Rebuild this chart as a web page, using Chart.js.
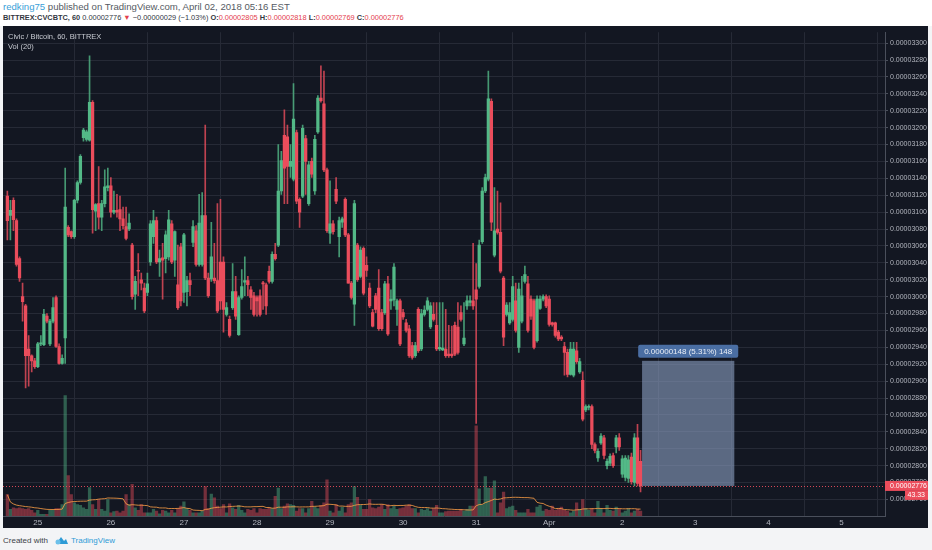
<!DOCTYPE html>
<html>
<head>
<meta charset="utf-8">
<script src="https://cdn.jsdelivr.net/npm/chart.js@4.4.1/dist/chart.umd.min.js"></script>
<style>
  html, body { margin: 0; padding: 0; }
  body { width: 932px; height: 550px; background: #f3f4f6; position: relative; overflow: hidden; font-family: "Liberation Sans", Arial, sans-serif; }
  #head { position: absolute; left: 0; top: 0; width: 932px; height: 26px; background: #fff; }
  #head .l1 { position: absolute; left: 3px; top: 1px; font-size: 9.6px; color: #555a63; white-space: nowrap; }
  #head .l2 { position: absolute; left: 3px; top: 13px; font-size: 7.4px; color: #33373f; white-space: nowrap; }
  .red { color: #e4404c; }
  .user { color: #3aa0d8; }
  #box { position: absolute; left: 3px; top: 26px; width: 925px; height: 502px; }
  .tag { position: absolute; left: 8px; font-size: 7.5px; color: #c8cbd2; white-space: nowrap; }
  #foot { position: absolute; left: 3px; top: 535px; font-size: 8px; color: #3b3f47; white-space: nowrap; }
  #foot svg { vertical-align: -2px; margin: 0 2px 0 5px; }
  #foot .tv { color: #2e9bd6; }
</style>
</head>
<body>
<div id="head">
  <div class="l1"><span class="user">redking75</span> published on TradingView.com, April 02, 2018 05:16 EST</div>
  <div class="l2"><b>BITTREX:CVCBTC, 60</b> 0.00002776 <span class="red">&#9660;</span> &minus;0.00000029 (&minus;1.03%) <b>O:</b><span class="red">0.00002805</span> <b>H:</b><span class="red">0.00002818</span> <b>L:</b><span class="red">0.00002769</span> <b>C:</b><span class="red">0.00002776</span></div>
</div>
<div id="box"><canvas id="c" width="925" height="502"></canvas></div>
<div class="tag" style="top:32px">Civic / Bitcoin, 60, BITTREX</div>
<div class="tag" style="top:42px">Vol (20)</div>
<div id="foot">Created with<svg width="16" height="10" viewBox="0 0 16 10"><path d="M3 9 L8 2 L11 6 L13 4 L15 9 Z" fill="#2e9bd6"/><circle cx="5" cy="7" r="2.5" fill="#6cc0ea"/></svg><span class="tv">TradingView</span></div>

<script>
// prices in units of 0.00000001 BTC, one candle per hour; hour 0 = 25 March 00:00
var firstHour = -10;

var openP = [
  3119,3096,3114,3090,3045,3000,2989,2938,2930,2924,
  2917,2944,2943,2977,2944,2971,2999,2941,2921,2951,
  3082,3077,3071,3114,3135,3188,3186,3185,3230,3101,
  3110,3094,3110,3129,3131,3100,3102,3103,3092,3083,
  3080,3061,3003,3031,3020,3010,3005,3041,3071,3090,
  3041,3046,3045,3047,3086,3043,3014,3059,3005,3006,
  3019,3064,3078,3038,3038,3096,3022,3021,3022,3019,
  3041,3041,2979,2973,2987,3006,2955,2999,3017,3019,
  3008,3001,2999,3001,3016,3014,3030,3018,3050,3061,
  3125,3191,3189,3154,3139,3194,3115,3119,3187,3110,
  3160,3125,3195,3235,3228,3150,3075,3086,3127,3071,
  3088,3115,3073,3016,2991,3061,3024,3057,3037,3010,
  2981,3001,3010,2981,2981,3015,2995,2996,2985,2995,
  2981,2969,2962,2942,2930,2985,2938,2979,2985,2964,
  2979,2966,2938,2937,2938,2932,2932,2966,2964,2981,
  2944,2989,2993,2995,3008,3012,3065,3125,3139,3231,
  3049,3080,3076,3022,2979,2969,2973,2995,2940,2971,
  3018,3015,2997,2995,2948,2986,2997,3000,2997,2969,
  2969,2958,2952,2941,2934,2908,2907,2936,2911,2901,
  2866,2869,2870,2825,2809,2827,2833,2800,2803,2812,
  2822,2833,2790,2786,2785,2810,2780,2833,2805
];
var highP = [
  3125,3114,3117,3092,3047,3016,2991,2954,2931,2927,
  2946,2954,2985,2980,2973,2999,3001,2944,2931,3152,
  3084,3078,3115,3137,3168,3199,3197,3285,3232,3110,
  3154,3114,3150,3152,3141,3125,3121,3119,3106,3106,
  3098,3063,3024,3051,3028,3016,3028,3090,3102,3094,
  3055,3063,3078,3102,3090,3078,3061,3063,3075,3024,
  3028,3090,3084,3121,3123,3203,3028,3088,3063,3110,
  3115,3047,2993,2977,3039,3024,3001,3032,3047,3024,
  3012,3005,3001,3008,3018,3016,3036,3053,3063,3180,
  3172,3221,3203,3180,3252,3197,3117,3203,3191,3160,
  3164,3191,3238,3273,3267,3152,3137,3090,3141,3094,
  3094,3117,3075,3018,3114,3063,3059,3059,3047,3016,
  2985,3004,3032,2985,3018,3024,3008,3039,2997,2997,
  2985,2973,2966,2946,2946,2987,2985,2989,2999,2993,
  2993,2993,2993,2993,2985,2966,2965,2970,2993,2989,
  2993,3001,3001,3063,3039,3067,3129,3145,3267,3234,
  3129,3125,3111,3024,2993,2993,3024,3016,3016,3024,
  3036,3024,3001,2997,3001,3001,3002,3002,3001,2970,
  2970,2960,2954,2946,2938,2946,2946,2946,2927,2911,
  2872,2872,2872,2827,2820,2838,2836,2808,2814,2815,
  2836,2838,2812,2812,2812,2815,2838,2849,2818
];
var lowP = [
  3067,3067,3078,3036,3018,2971,2892,2894,2911,2915,
  2916,2942,2942,2969,2942,2969,2940,2920,2920,2921,
  3071,3069,3069,3111,3133,3184,3184,3184,3075,3078,
  3080,3078,3106,3125,3094,3098,3094,3078,3080,3067,
  3078,2997,2985,3001,3008,2981,3001,3037,3063,3039,
  3024,2997,3028,3043,3039,3024,2985,2989,2993,2989,
  3001,3059,3036,3036,3036,3020,2999,3018,3016,2981,
  2985,2958,2977,2952,2985,2973,2954,2997,3001,3001,
  2985,2977,2977,2977,2985,2979,3016,3016,3043,3059,
  3121,3110,3110,3141,3137,3110,3082,3117,3121,3108,
  3141,3121,3193,3230,3148,3076,3063,3074,3110,3047,
  3082,3071,3016,2997,2966,3018,3022,3002,3024,2987,
  2964,2981,2960,2960,2979,2954,2985,2989,2966,2942,
  2973,2958,2928,2926,2928,2934,2936,2977,2983,2962,
  2971,2936,2936,2936,2928,2928,2928,2930,2932,2971,
  2942,2985,2989,2985,2850,3010,3063,3123,3137,3078,
  3047,3074,3028,2942,2977,2967,2971,2958,2934,2969,
  3016,2958,2973,2938,2946,2985,2995,2987,2965,2965,
  2952,2948,2948,2907,2905,2907,2905,2921,2909,2853,
  2864,2866,2820,2815,2805,2825,2808,2796,2800,2798,
  2815,2818,2786,2782,2780,2778,2776,2776,2769
];
var closeP = [
  3090,3102,3091,3038,3022,2994,2930,2930,2924,2917,
  2944,2945,2979,2971,2971,2987,2941,2921,2927,3106,
  3073,3071,3114,3135,3166,3197,3195,3230,3103,3109,
  3094,3110,3130,3131,3100,3102,3100,3092,3084,3069,
  3087,3000,3018,3030,3016,2983,3015,3086,3090,3041,
  3045,3043,3073,3091,3041,3077,2987,2995,3073,3019,
  3014,3083,3038,3087,3096,3022,3001,3047,3019,2983,
  2995,2985,2987,2954,3006,2977,2999,3012,3019,3014,
  2999,2979,2995,2979,3015,2989,3018,3050,3045,3125,
  3161,3152,3154,3160,3210,3113,3100,3199,3160,3156,
  3145,3186,3235,3232,3150,3078,3086,3077,3113,3090,
  3092,3073,3016,2999,3110,3020,3055,3004,3031,2989,
  2965,2985,2962,2962,3015,2956,2997,3035,2995,2944,
  2976,2960,2930,2928,2942,2936,2980,2984,2995,2989,
  2973,2938,2940,2939,2930,2930,2930,2932,2934,2973,
  2951,2995,2995,2989,2997,3061,3125,3141,3234,3088,
  3078,3076,3030,2952,2990,2981,3012,2960,3009,3001,
  3026,2960,2977,2940,2997,2997,3000,2989,2967,2967,
  2954,2950,2950,2934,2908,2938,2938,2923,2923,2855,
  2870,2870,2825,2818,2817,2835,2812,2805,2811,2800,
  2833,2822,2808,2809,2807,2781,2833,2779,2776
];
var volume = [
  188,58,72,66,72,66,58,66,49,29,
  49,14,14,14,49,49,66,66,101,1061,
  355,188,116,101,95,72,58,251,101,58,
  145,58,43,145,29,38,43,29,43,188,
  101,280,72,49,101,29,29,29,58,43,
  20,49,43,29,49,29,66,87,124,66,
  49,29,29,29,43,260,66,194,159,87,
  66,101,29,107,72,58,95,49,29,58,
  49,66,29,66,58,58,72,66,173,246,
  66,87,107,101,95,43,66,66,29,66,
  130,78,66,95,116,318,43,29,101,43,
  78,29,101,116,260,165,95,58,58,145,
  72,66,78,101,58,101,66,87,58,66,
  72,87,101,66,66,29,58,49,66,43,
  66,95,29,29,38,43,43,43,43,58,
  43,58,87,87,795,240,101,347,246,246,
  309,29,116,211,66,78,87,49,29,29,
  29,58,29,29,78,95,43,58,49,87,
  49,66,78,49,43,29,43,116,58,145,
  66,49,66,29,130,66,29,95,49,43,
  78,58,29,43,66,29,43,58,43.33
];

var dayLabels = ["25", "26", "27", "28", "29", "30", "31", "Apr", "2", "3", "4", "5"];
var priceTicks = [3300,3280,3260,3240,3220,3200,3180,3160,3140,3120,3100,3080,3060,3040,
  3020,3000,2980,2960,2940,2920,2900,2880,2860,2840,2820,2800,2780,2760];
var lastPrice = 2776;
var lastVolume = "43.33";
var measure = { fromHour: 198.5, toHour: 228.8, low: 2776, high: 2924, text: "0.00000148 (5.31%) 148" };

var UP = "#53b987", DOWN = "#eb4d5c";

var hours = openP.map(function (_, i) { return firstHour + i; });
var dayTicks = dayLabels.map(function (_, i) { return i * 24; });
var isUp = openP.map(function (o, i) { return closeP[i] >= o; });

// Vol (20): simple moving average of the volume bars
var volMA = volume.map(function (v, i) {
  var w = volume.slice(Math.max(0, i - 19), i + 1);
  return w.reduce(function (a, b) { return a + b; }, 0) / w.length;
});

var fmt = function (v) { return (v / 1e8).toFixed(8); };

var tvPlugin = {
  id: "tv",
  beforeDraw: function (chart) {
    var c = chart.ctx;
    c.save();
    c.fillStyle = "#131722";
    c.fillRect(0, 0, chart.width, chart.height);
    c.restore();
  },
  afterDatasetsDraw: function (chart) {
    var ctx = chart.ctx, a = chart.chartArea, x = chart.scales.x, y = chart.scales.y;
    ctx.save();
    var yl = Math.round(y.getPixelForValue(lastPrice)) + 0.5;
    ctx.strokeStyle = "rgba(235,77,92,0.9)";
    ctx.lineWidth = 1;
    ctx.setLineDash([1, 2]);
    ctx.beginPath(); ctx.moveTo(a.left, yl); ctx.lineTo(a.right, yl); ctx.stroke();
    ctx.setLineDash([]);

    var x0 = x.getPixelForValue(measure.fromHour), x1 = x.getPixelForValue(measure.toHour);
    var y0 = y.getPixelForValue(measure.high), y1 = y.getPixelForValue(measure.low);
    ctx.fillStyle = "rgba(140,160,195,0.6)";
    ctx.fillRect(x0, y0, x1 - x0, y1 - y0);

    ctx.font = '8px "Liberation Sans"';
    var tw = ctx.measureText(measure.text).width;
    var cx = (x0 + x1) / 2, bw = tw + 12, bh = 13, by = y0 - bh - 3;
    ctx.fillStyle = "#4a6ea3";
    ctx.beginPath();
    ctx.roundRect(cx - bw / 2, by, bw, bh, 2);
    ctx.fill();
    ctx.fillStyle = "#e8edf5";
    ctx.textAlign = "center";
    ctx.textBaseline = "middle";
    ctx.fillText(measure.text, cx, by + bh / 2 + 0.5);
    ctx.restore();
  },
  afterDraw: function (chart) {
    var ctx = chart.ctx, a = chart.chartArea, y = chart.scales.y;
    ctx.save();
    var yl = y.getPixelForValue(lastPrice);
    ctx.fillStyle = DOWN;
    ctx.fillRect(a.right, yl - 5, chart.width - a.right, 10);
    ctx.fillRect(chart.width - 23, yl + 5, 23, 9);
    ctx.fillStyle = "#ffffff";
    ctx.font = '7px "Liberation Sans"';
    ctx.textBaseline = "middle";
    ctx.textAlign = "left";
    ctx.fillText(fmt(lastPrice), a.right + 5, yl + 0.5);
    ctx.textAlign = "right";
    ctx.fillText(lastVolume, chart.width - 3, yl + 9.5);
    ctx.restore();
  }
};

new Chart(document.getElementById("c").getContext("2d"), {
  type: "bar",
  data: {
    datasets: [
      {
        label: "body",
        data: hours.map(function (h, i) { return { x: h, y: [openP[i], closeP[i]] }; }),
        backgroundColor: isUp.map(function (u) { return u ? UP : DOWN; }),
        barThickness: 2.6,
        minBarLength: 1,
        grouped: false,
        order: 0
      },
      {
        label: "wick",
        data: hours.map(function (h, i) { return { x: h, y: [lowP[i], highP[i]] }; }),
        backgroundColor: isUp.map(function (u) { return u ? "rgba(83,185,135,0.8)" : "rgba(235,77,92,0.8)"; }),
        barThickness: 1,
        grouped: false,
        order: 1
      },
      {
        type: "line",
        label: "Vol MA",
        data: hours.map(function (h, i) { return { x: h, y: volMA[i] }; }),
        yAxisID: "yv",
        borderColor: "rgba(255,160,70,0.8)",
        borderWidth: 1,
        pointRadius: 0,
        order: 2
      },
      {
        label: "Vol",
        data: hours.map(function (h, i) { return { x: h, y: volume[i] }; }),
        yAxisID: "yv",
        backgroundColor: isUp.map(function (u) { return u ? "rgba(83,185,135,0.45)" : "rgba(235,77,92,0.45)"; }),
        barThickness: 2.6,
        grouped: false,
        order: 3
      }
    ]
  },
  options: {
    responsive: false,
    animation: false,
    devicePixelRatio: 1,
    layout: { padding: 0 },
    plugins: { legend: { display: false }, tooltip: { enabled: false } },
    scales: {
      x: {
        type: "linear",
        min: -11.43,
        max: 278.3,
        offset: false,
        afterBuildTicks: function (s) { s.ticks = dayTicks.map(function (v) { return { value: v }; }); },
        afterFit: function (s) { s.height = 12; },
        ticks: {
          autoSkip: false, maxRotation: 0, padding: 2, color: "#b2b5be",
          font: { size: 8, family: "Liberation Sans" },
          callback: function (v) { var k = dayTicks.indexOf(v); return k < 0 ? "" : dayLabels[k]; }
        },
        grid: { color: "#262a36", drawTicks: false },
        border: { color: "#4a4f5b" }
      },
      y: {
        position: "right",
        min: 2740.4,
        max: 3312.9,
        afterBuildTicks: function (s) { s.ticks = priceTicks.map(function (v) { return { value: v }; }); },
        afterFit: function (s) { s.width = 43; },
        ticks: {
          padding: 2, color: "#b2b5be",
          font: { size: 7, family: "Liberation Sans" },
          callback: function (v) { return fmt(v); }
        },
        grid: { color: "#262a36", drawTicks: true, tickLength: 3, tickColor: "#4a4f5b" },
        border: { color: "#4a4f5b" }
      },
      yv: { display: false, min: 0, max: 4261 }
    }
  },
  plugins: [tvPlugin]
});
</script>
</body>
</html>
